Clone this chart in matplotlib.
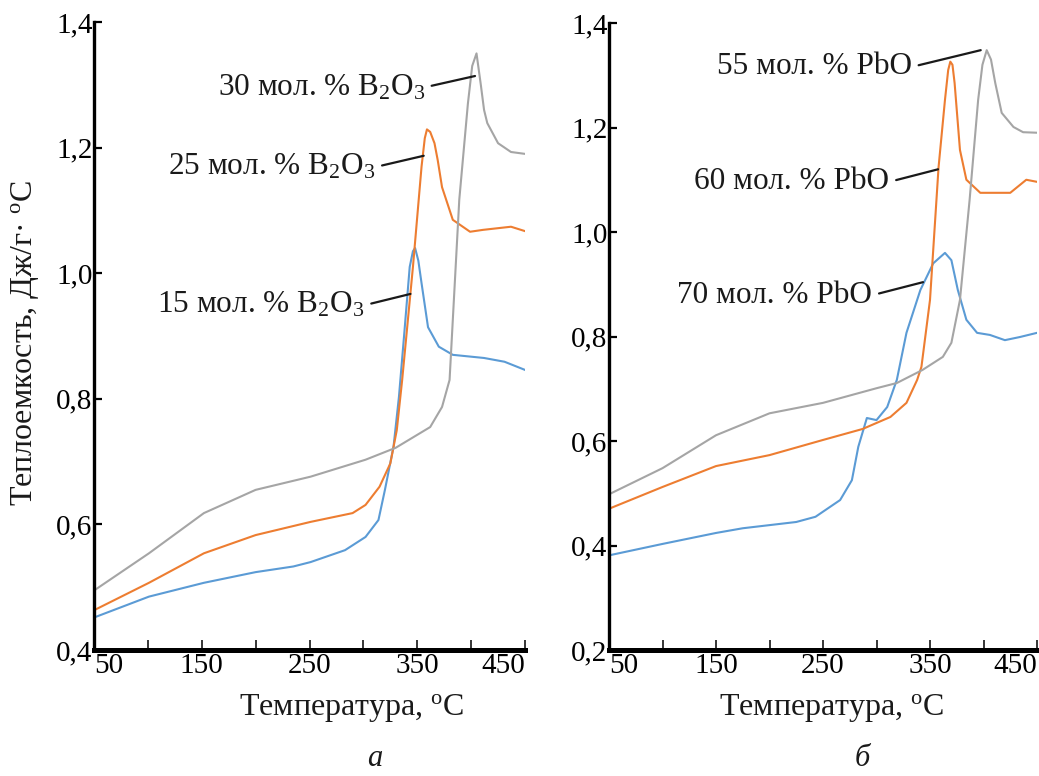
import matplotlib
matplotlib.use("Agg")
import matplotlib.pyplot as plt
from matplotlib.ticker import FixedLocator, FuncFormatter

plt.rcParams["font.family"] = "Liberation Serif"
plt.rcParams["mathtext.fontset"] = "custom"
plt.rcParams["mathtext.rm"] = "Liberation Serif"
plt.rcParams["mathtext.it"] = "Liberation Serif:italic"

BLUE = "#5b9bd5"
ORANGE = "#ed7d31"
GRAY = "#a5a5a5"

# ---- panel a: B2O3 series ----
a_t15 = [52, 101, 152, 200, 235, 251, 283, 302, 314, 320, 328, 333, 338, 343, 346, 348,
         351, 354, 360, 370, 383, 412, 431, 450]
a_v15 = [0.453, 0.485, 0.507, 0.524, 0.533, 0.540, 0.559, 0.580, 0.607, 0.655, 0.724,
         0.803, 0.905, 1.010, 1.035, 1.040, 1.020, 0.984, 0.914, 0.883, 0.870, 0.865,
         0.859, 0.846]

a_t25 = [52, 101, 152, 200, 251, 290, 302, 315, 325, 331, 336, 346, 354, 357, 359, 362,
         366, 369, 373, 383, 399, 411, 437, 450]
a_v25 = [0.465, 0.507, 0.554, 0.583, 0.604, 0.618, 0.631, 0.660, 0.697, 0.750, 0.830,
         1.010, 1.170, 1.215, 1.229, 1.225, 1.207, 1.180, 1.137, 1.085, 1.066, 1.069,
         1.074, 1.067]

a_t30 = [52, 101, 152, 200, 251, 302, 330, 362, 373, 380, 389, 397, 401, 405, 409, 412,
         415, 425, 437, 450]
a_v30 = [0.497, 0.554, 0.618, 0.655, 0.676, 0.703, 0.722, 0.755, 0.787, 0.830, 1.117,
         1.270, 1.330, 1.350, 1.300, 1.260, 1.239, 1.207, 1.193, 1.190]

# ---- panel б: PbO series ----
b_t55 = [52, 100, 150, 200, 250, 300, 319, 343, 362, 370, 378, 387, 395, 399, 403, 407,
         411, 417, 428, 437, 450]
b_v55 = [0.500, 0.548, 0.611, 0.653, 0.673, 0.701, 0.711, 0.736, 0.761, 0.788, 0.870,
         1.061, 1.253, 1.320, 1.348, 1.330, 1.285, 1.228, 1.201, 1.191, 1.190]

b_t60 = [52, 100, 150, 200, 250, 287, 313, 328, 338, 342, 350, 358, 364, 367, 369, 371,
         373, 378, 384, 397, 412, 425, 440, 450]
b_v60 = [0.472, 0.512, 0.552, 0.573, 0.602, 0.623, 0.646, 0.673, 0.717, 0.742, 0.870,
         1.124, 1.253, 1.310, 1.326, 1.320, 1.285, 1.157, 1.100, 1.075, 1.075, 1.075,
         1.100, 1.096]

b_t70 = [52, 100, 150, 175, 200, 225, 243, 266, 277, 283, 291, 300, 310, 319, 328,
         341, 353, 364, 370, 376, 384, 394, 406, 420, 434, 450]
b_v70 = [0.382, 0.403, 0.424, 0.433, 0.439, 0.445, 0.455, 0.487, 0.525, 0.589, 0.644,
         0.640, 0.665, 0.717, 0.807, 0.889, 0.940, 0.960, 0.946, 0.889, 0.832, 0.807,
         0.803, 0.793, 0.799, 0.807]

x_major = [50, 150, 250, 350, 450]
x_minor = [100, 200, 300, 400]

FS = 21
FS_TXT = 22.5


def style_axis(ax, ylo, yticks):
    ax.set_xlim(50, 450)
    ax.set_ylim(ylo, 1.4)
    for s in ("top", "right"):
        ax.spines[s].set_visible(False)
    ax.spines["left"].set_linewidth(2.4)
    ax.spines["bottom"].set_linewidth(3.6)
    ax.xaxis.set_major_locator(FixedLocator(x_major))
    ax.xaxis.set_minor_locator(FixedLocator(x_minor))
    ax.yaxis.set_major_locator(FixedLocator(yticks))
    ax.yaxis.set_major_formatter(FuncFormatter(lambda v, p: f"{v:.1f}".replace(".", ",")))
    ax.tick_params(axis="x", which="both", direction="in", length=7, width=1.1,
                   labelsize=FS, pad=2)
    ax.tick_params(axis="y", direction="in", length=6, width=1.6, labelsize=FS, pad=1)
    labels = ax.get_xticklabels()
    labels[0].set_horizontalalignment("left")
    labels[-1].set_horizontalalignment("right")


def label(ax, text, xy_text, xy_end):
    ax.annotate(text, xy=xy_end, xytext=xy_text, ha="right", va="center",
                fontsize=FS_TXT, color="#1a1a1a",
                arrowprops=dict(arrowstyle="-", color="#1a1a1a", lw=1.6,
                                relpos=(1.0, 0.5), shrinkA=3, shrinkB=0))


fig = plt.figure(figsize=(10.39, 7.76), dpi=100)
ax1 = fig.add_axes([94 / 1039, 1 - 650 / 776, 431 / 1039, 628 / 776])
ax2 = fig.add_axes([609 / 1039, 1 - 650 / 776, 428 / 1039, 627 / 776])

ax1.plot(a_t15, a_v15, color=BLUE, lw=1.5)
ax1.plot(a_t25, a_v25, color=ORANGE, lw=1.5)
ax1.plot(a_t30, a_v30, color=GRAY, lw=1.5)
style_axis(ax1, 0.4, [0.4, 0.6, 0.8, 1.0, 1.2, 1.4])

label(ax1, "30 мол. % B$_2$O$_3$", (357, 1.296), (403.6, 1.314))
label(ax1, "25 мол. % B$_2$O$_3$", (311, 1.169), (356, 1.187))
label(ax1, "15 мол. % B$_2$O$_3$", (301, 0.949), (343.7, 0.967))

ax2.plot(b_t70, b_v70, color=BLUE, lw=1.5)
ax2.plot(b_t60, b_v60, color=ORANGE, lw=1.5)
ax2.plot(b_t55, b_v55, color=GRAY, lw=1.5)
style_axis(ax2, 0.2, [0.2, 0.4, 0.6, 0.8, 1.0, 1.2, 1.4])

label(ax2, "55 мол. % PbO", (333, 1.316), (397.4, 1.348))
label(ax2, "60 мол. % PbO", (312, 1.096), (357.5, 1.120))
label(ax2, "70 мол. % PbO", (296, 0.879), (343.5, 0.904))

fig.text(25 / 1039, 1 - 343 / 776, "Теплоемкость, Дж/г· $^{\\mathrm{o}}$С",
         rotation=90, ha="center", va="center", fontsize=23, color="#1a1a1a")
fig.text(352 / 1039, 1 - 708 / 776, "Температура, $^{\\mathrm{o}}$C",
         ha="center", va="center", fontsize=23, color="#1a1a1a")
fig.text(832 / 1039, 1 - 708 / 776, "Температура, $^{\\mathrm{o}}$C",
         ha="center", va="center", fontsize=23, color="#1a1a1a")
fig.text(375 / 1039, 1 - 758 / 776, "а", style="italic",
         ha="center", va="center", fontsize=22, color="#1a1a1a")
fig.text(862 / 1039, 1 - 758 / 776, "б", style="italic",
         ha="center", va="center", fontsize=22, color="#1a1a1a")

fig.savefig("out.png", dpi=100)
